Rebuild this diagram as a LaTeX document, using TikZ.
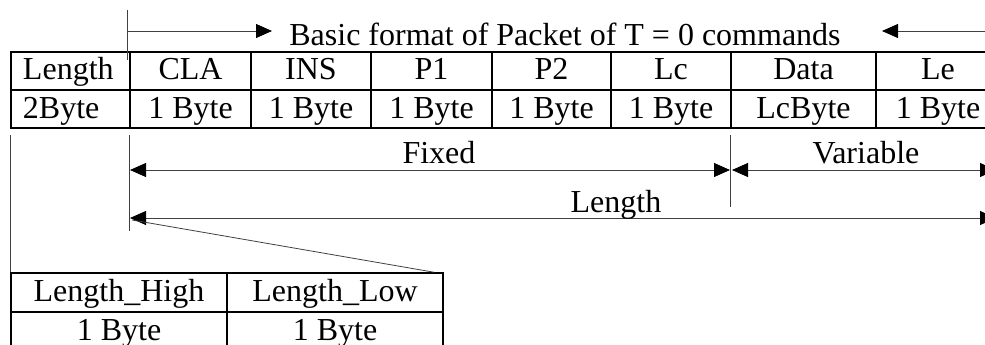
\documentclass[tikz,border=0pt]{standalone}
\usepackage{fontspec}
\setmainfont{Liberation Serif}
\usetikzlibrary{arrows.meta}

\tikzset{
  cell/.style={draw, line width=1.6pt, minimum height=38pt, inner sep=0pt, text height=24pt, text depth=6pt},
  guide/.style={line width=0.8pt, black!75},
  dimline/.style={guide, {Triangle[length=16pt, width=14pt, color=black]}-{Triangle[length=16pt, width=14pt, color=black]}},
  onetip/.style={guide, -{Triangle[length=16pt, width=14pt, color=black]}},
}

\begin{document}
\begin{tikzpicture}[x=1pt, y=-1pt, font=\fontsize{32}{38}\selectfont]
	\useasboundingbox (0,0) rectangle (985,345);
	\clip (0,0) rectangle (985,345);
	% packet fields
	\node[cell, minimum width=119pt, text width=95pt, align=left] (len) at (70.5,71) {Length};
	\node[cell, minimum width=121pt] (cla) at (190.5,71) {CLA};
	\node[cell, minimum width=120pt] (ins) at (311,71) {INS};
	\node[cell, minimum width=121pt] (pa) at (431.5,71) {P1};
	\node[cell, minimum width=119pt] (pb) at (551.5,71) {P2};
	\node[cell, minimum width=120pt] (lc) at (671,71) {Lc};
	\node[cell, minimum width=145pt] (data) at (803.5,71) {Data};
	\node[cell, minimum width=124pt] (le) at (938,71) {Le};
	% field sizes
	\node[cell, minimum width=119pt, text width=95pt, align=left] (lenB) at (70.5,109) {2Byte};
	\node[cell, minimum width=121pt] (claB) at (190.5,109) {1 Byte};
	\node[cell, minimum width=120pt] (insB) at (311,109) {1 Byte};
	\node[cell, minimum width=121pt] (paB) at (431.5,109) {1 Byte};
	\node[cell, minimum width=119pt] (pbB) at (551.5,109) {1 Byte};
	\node[cell, minimum width=120pt] (lcB) at (671,109) {1 Byte};
	\node[cell, minimum width=145pt] (dataB) at (803.5,109) {LcByte};
	\node[cell, minimum width=124pt] (leB) at (938,109) {1 Byte};
	% length split
	\node[cell, minimum width=216pt, minimum height=39pt] (lh) at (119,292.5) {Length\_High};
	\node[cell, minimum width=216pt, minimum height=39pt] (ll) at (335,292.5) {Length\_Low};
	\node[cell, minimum width=216pt, minimum height=39pt] (lhB) at (119,331.5) {1 Byte};
	\node[cell, minimum width=216pt, minimum height=39pt] (llB) at (335,331.5) {1 Byte};
	% title with arrows
	\node[anchor=base] (title) at (565,46) {Basic format of Packet of T = 0 commands};
	\coordinate (barT) at (127,10);
	\coordinate (barB) at (127,60);
	\coordinate (barM) at (127,31);
	\coordinate (tipL) at (272,31);
	\coordinate (tipR) at (882,31);
	\coordinate (tailR) at (1000,31);
	\draw[guide] (barT) -- (barB);
	\draw[onetip] (barM) -- (tipL);
	\draw[onetip] (tailR) -- (tipR);
	% extension lines
	\draw[guide] ([yshift=-6pt]lenB.south west) -- (lh.north west);
	\draw[guide] ([yshift=-6pt]claB.south west) -- ++(0,96);
	\draw[guide] ([yshift=-6pt]dataB.south west) -- ++(0,72);
	% dimensions
	\coordinate (fixL) at (130,170);
	\coordinate (fixR) at (730,170);
	\coordinate (varL) at (732,170);
	\coordinate (varR) at (996,170);
	\coordinate (allL) at (130,218);
	\coordinate (allR) at (996,218);
	\draw[dimline] (fixL) -- (fixR);
	\draw[dimline] (varL) -- (varR);
	\draw[dimline] (allL) -- (allR);
	\node[anchor=base] (fixed) at (439,163) {Fixed};
	\node[anchor=base] (variable) at (866,163) {Variable};
	\node[anchor=base] (total) at (616,212) {Length};
	\draw[guide] ([shift={(2pt,-2pt)}]allL) -- ([xshift=-10pt]ll.north east);
\end{tikzpicture}
\end{document}
